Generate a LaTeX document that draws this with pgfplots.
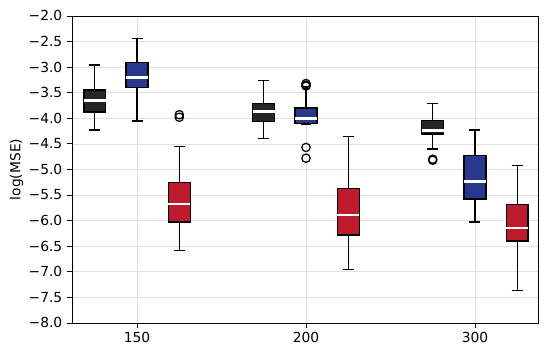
\documentclass[border=0pt]{standalone}
\usepackage{fontspec}
\setmainfont{DejaVu Sans}
\usepackage{pgfplots}
\pgfplotsset{compat=1.18}
\usepgfplotslibrary{statistics}

\definecolor{cblack}{RGB}{38,38,38}
\definecolor{cblue}{RGB}{40,56,143}
\definecolor{cred}{RGB}{191,27,46}

\pgfplotsset{
  mybox/.style={
    draw=black, line width=1pt,
    boxplot/draw direction=y,
    boxplot/box extend=0.13,
    boxplot/whisker extend=0.065,
    boxplot/every box/.style={fill=#1, draw=black, line width=1pt},
    boxplot/every whisker/.style={draw=black, line width=1pt},
    boxplot/every median/.style={draw=white, line width=1.8pt},
    mark=o, mark size=3pt,
    mark options={draw=black, fill=none, line width=0.9pt, solid},
  },
}

\begin{document}
\begin{tikzpicture}
\begin{axis}[
  width=4.66in, height=3.07in, scale only axis,
  xmin=0.615, xmax=3.373,
  ymin=-8, ymax=-2,
  xtick={1,2,3}, xticklabels={150,200,300},
  ytick={-8,-7.5,-7,-6.5,-6,-5.5,-5,-4.5,-4,-3.5,-3,-2.5,-2},
  yticklabels={−8.0,−7.5,−7.0,−6.5,−6.0,−5.5,−5.0,−4.5,−4.0,−3.5,−3.0,−2.5,−2.0},
  tick align=outside, xtick pos=bottom, ytick pos=left,
  major tick length=3.5pt,
  tick style={black, line width=0.6pt},
  axis line style={line width=0.6pt},
  grid=major,
  major grid style={color=black!12, line width=0.5pt},
  ylabel={log(MSE)},
  ylabel shift=-3pt,
  ticklabel style={font=\fontsize{10}{12}\selectfont},
  label style={font=\fontsize{10}{12}\selectfont},
  clip=false,
]
% n = 150
\addplot[mybox=cblack, boxplot prepared={draw position=0.75,
  lower whisker=-4.23, lower quartile=-3.88, median=-3.65,
  upper quartile=-3.45, upper whisker=-2.96}] coordinates {};
\addplot[mybox=cblue, boxplot prepared={draw position=1,
  lower whisker=-4.05, lower quartile=-3.40, median=-3.20,
  upper quartile=-2.905, upper whisker=-2.44}] coordinates {};
\addplot[mybox=cred, boxplot prepared={draw position=1.25,
  lower whisker=-6.59, lower quartile=-6.03, median=-5.68,
  upper quartile=-5.25, upper whisker=-4.55}]
  table[row sep=\\, y index=0] {data\\ -3.93\\ -3.98\\};
% n = 200
\addplot[mybox=cblack, boxplot prepared={draw position=1.75,
  lower whisker=-4.39, lower quartile=-4.06, median=-3.87,
  upper quartile=-3.71, upper whisker=-3.26}] coordinates {};
\addplot[mybox=cblue, boxplot prepared={draw position=2,
  lower whisker=-4.12, lower quartile=-4.10, median=-4.00,
  upper quartile=-3.80, upper whisker=-3.38}]
  table[row sep=\\, y index=0] {data\\ -3.32\\ -3.35\\ -3.37\\ -4.57\\ -4.78\\};
\addplot[mybox=cred, boxplot prepared={draw position=2.25,
  lower whisker=-6.95, lower quartile=-6.28, median=-5.89,
  upper quartile=-5.37, upper whisker=-4.35}] coordinates {};
% n = 300
\addplot[mybox=cblack, boxplot prepared={draw position=2.75,
  lower whisker=-4.60, lower quartile=-4.31, median=-4.24,
  upper quartile=-4.04, upper whisker=-3.71}]
  table[row sep=\\, y index=0] {data\\ -4.80\\ -4.82\\};
\addplot[mybox=cblue, boxplot prepared={draw position=3,
  lower whisker=-6.03, lower quartile=-5.58, median=-5.24,
  upper quartile=-4.73, upper whisker=-4.23}] coordinates {};
\addplot[mybox=cred, boxplot prepared={draw position=3.25,
  lower whisker=-7.37, lower quartile=-6.40, median=-6.14,
  upper quartile=-5.68, upper whisker=-4.92}] coordinates {};
\path (axis description cs:-0.1545,-0.1107) rectangle (axis description cs:1.0215,1.052);
\end{axis}
\end{tikzpicture}
\end{document}
